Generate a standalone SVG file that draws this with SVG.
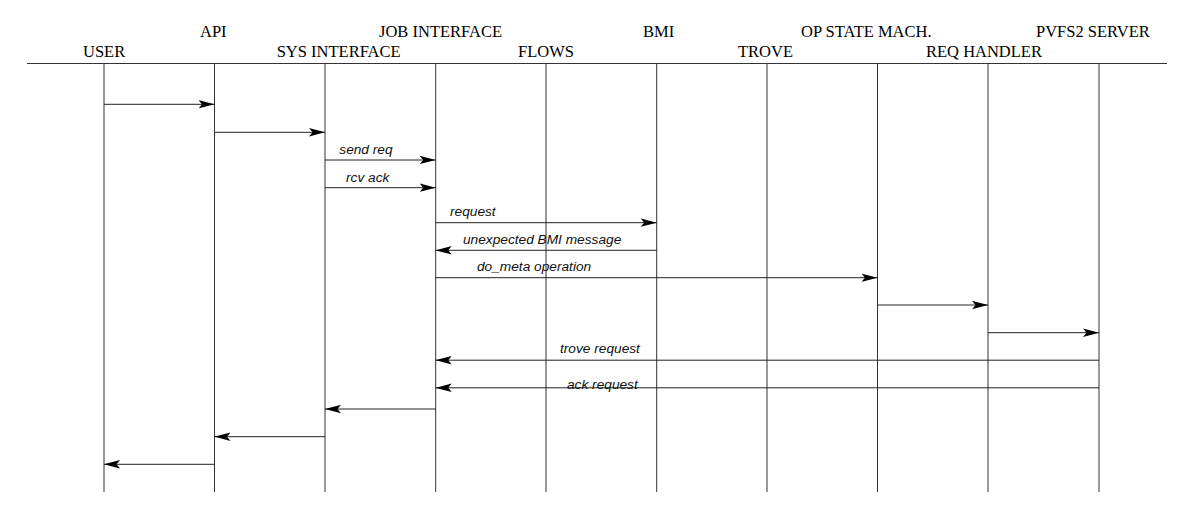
<svg xmlns="http://www.w3.org/2000/svg" width="1198" height="514" viewBox="0 0 1198 514">
<style>
.hdr{font-family:"Liberation Serif","Times New Roman",serif;font-size:16.5px;fill:#000}
.life{stroke:#333;stroke-width:1;fill:none}
.msg{stroke:#222;stroke-width:1;fill:none;marker-end:url(#ah)}
.lbl{font-family:"Liberation Sans",Arial,sans-serif;font-size:13.7px;font-style:italic;fill:#111}
</style>
<defs>
<marker id="ah" viewBox="0 0 16 9" refX="16" refY="4.5" markerWidth="16" markerHeight="9" markerUnits="userSpaceOnUse" orient="auto">
<path d="M0,0.3 L16,4.5 L0,8.7 L3.5,4.5 Z" fill="#000"/>
</marker>
</defs>
<rect width="1198" height="514" fill="#fff"/>
<line x1="27" y1="63.5" x2="1167" y2="63.5" stroke="#333" stroke-width="1"/>
<g id="user"><text class="hdr" x="83" y="57">USER</text><line class="life" x1="104" y1="64" x2="104" y2="492"/></g>
<g id="api"><text class="hdr" x="200" y="36.5">API</text><line class="life" x1="214.5" y1="64" x2="214.5" y2="492"/></g>
<g id="sys-interface"><text class="hdr" x="276.7" y="57">SYS INTERFACE</text><line class="life" x1="325" y1="64" x2="325" y2="492"/></g>
<g id="job-interface"><text class="hdr" x="379" y="36.5">JOB INTERFACE</text><line class="life" x1="435.7" y1="64" x2="435.7" y2="492"/></g>
<g id="flows"><text class="hdr" x="518" y="57">FLOWS</text><line class="life" x1="546" y1="64" x2="546" y2="492"/></g>
<g id="bmi"><text class="hdr" x="643" y="36.5">BMI</text><line class="life" x1="656.7" y1="64" x2="656.7" y2="492"/></g>
<g id="trove"><text class="hdr" x="738" y="57">TROVE</text><line class="life" x1="767" y1="64" x2="767" y2="492"/></g>
<g id="op-state-mach"><text class="hdr" x="801" y="36.5">OP STATE MACH.</text><line class="life" x1="877.5" y1="64" x2="877.5" y2="492"/></g>
<g id="req-handler"><text class="hdr" x="926" y="57">REQ HANDLER</text><line class="life" x1="988" y1="64" x2="988" y2="492"/></g>
<g id="pvfs2-server"><text class="hdr" x="1036" y="36.5">PVFS2 SERVER</text><line class="life" x1="1099" y1="64" x2="1099" y2="492"/></g>
<g id="connectors">
<line class="msg" x1="104" y1="104.3" x2="214.5" y2="104.3"/>
<line class="msg" x1="214.5" y1="132.3" x2="325" y2="132.3"/>
<line class="msg" x1="325" y1="160" x2="435.7" y2="160"/>
<text class="lbl" x="339.3" y="154">send req</text>
<line class="msg" x1="325" y1="187.7" x2="435.7" y2="187.7"/>
<text class="lbl" x="346" y="181.7">rcv ack</text>
<line class="msg" x1="435.7" y1="222.7" x2="656.7" y2="222.7"/>
<text class="lbl" x="450" y="216">request</text>
<line class="msg" x1="656.7" y1="250.3" x2="435.7" y2="250.3"/>
<text class="lbl" x="463" y="244">unexpected BMI message</text>
<line class="msg" x1="435.7" y1="277.7" x2="877.5" y2="277.7"/>
<text class="lbl" x="477" y="270.5">do_meta operation</text>
<line class="msg" x1="877.5" y1="305" x2="988" y2="305"/>
<line class="msg" x1="988" y1="332.7" x2="1099" y2="332.7"/>
<line class="msg" x1="1099" y1="360.2" x2="435.7" y2="360.2"/>
<text class="lbl" x="560" y="353">trove request</text>
<line class="msg" x1="1099" y1="387.8" x2="435.7" y2="387.8"/>
<text class="lbl" x="567" y="389">ack request</text>
<line class="msg" x1="435.7" y1="409" x2="325" y2="409"/>
<line class="msg" x1="325" y1="436.7" x2="214.5" y2="436.7"/>
<line class="msg" x1="214.5" y1="464.3" x2="104" y2="464.3"/>
</g>
</svg>
